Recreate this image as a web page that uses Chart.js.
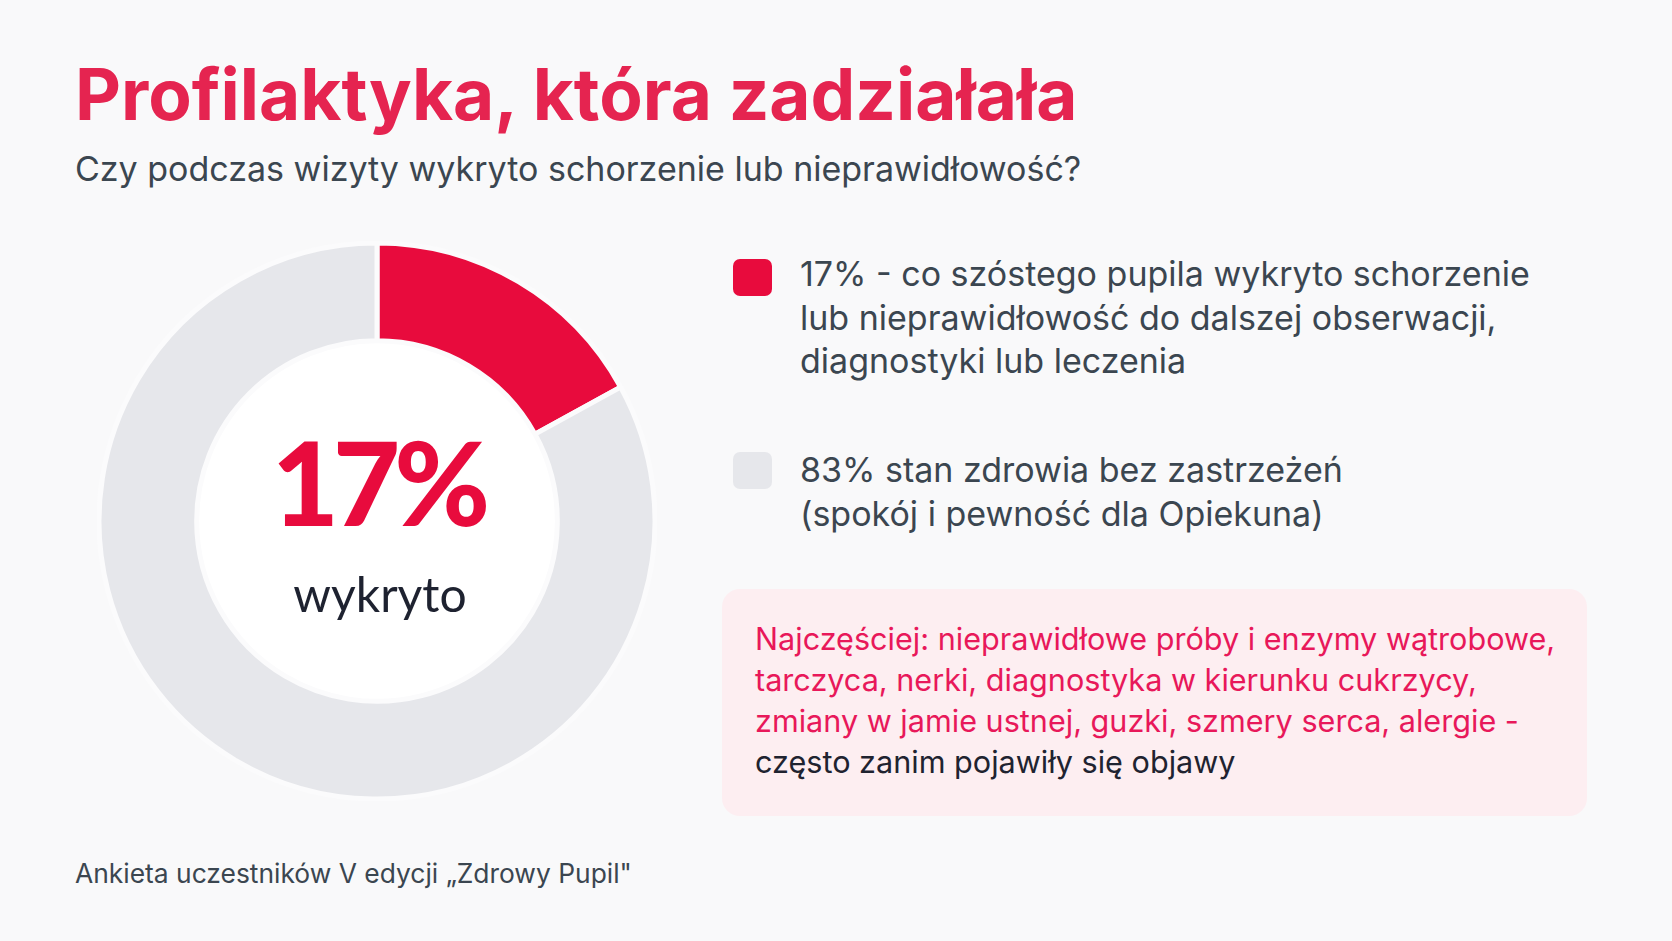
<!DOCTYPE html>
<html lang="pl">
<head>
<meta charset="utf-8">
<script src="https://cdn.jsdelivr.net/npm/chart.js@4.4.1/dist/chart.umd.min.js"></script>
<style>
  html, body { margin:0; padding:0; }
  body { width:1672px; height:941px; background:#f9f9fa; position:relative; overflow:hidden; font-family:Inter, "Noto Sans", sans-serif; }
  .t { position:absolute; white-space:nowrap; margin:0; }
  #title { left:75px; font-weight:700; font-size:71px; line-height:1; color:#e52450; }
  #subtitle { left:75px; font-size:34px; line-height:1.2; color:#3b4650; }
  .legtext { left:800px; font-size:34px; line-height:43.5px; color:#3b4650; }
  .sw { position:absolute; left:733px; width:39px; height:37px; border-radius:7px; }
  #box { position:absolute; left:722px; top:589px; width:865px; height:227px; border-radius:18px; background:#fdeef1; }
  #boxtext { left:755px; font-size:30.6px; line-height:41px; color:#e8185a; }
  #boxtext .dark { color:#1f2330; }
  #foot { left:75px; font-size:26.4px; line-height:1.2; color:#3b4650; }
  #chartwrap { position:absolute; left:97px; top:241px; width:560px; height:560px; }
  #big { font-family:Lato, sans-serif; font-weight:900; font-size:116px; line-height:1; color:#e80b3d; letter-spacing:-6px; text-align:center; width:300px; left:228px; }
  #sub { font-family:Lato, sans-serif; font-weight:400; font-size:48px; line-height:1; color:#1e2230; text-align:center; width:300px; left:230px; }
</style>
</head>
<body>
<div id="chartwrap"><canvas id="c" width="560" height="560"></canvas></div>

<div id="title" class="t"></div>
<div id="subtitle" class="t"></div>

<div id="sw0" class="sw" style="top:259px;"></div>
<div id="leg0" class="t legtext"></div>
<div id="sw1" class="sw" style="top:452px;"></div>
<div id="leg1" class="t legtext"></div>

<div id="box"></div>
<div id="boxtext" class="t"></div>

<div id="big" class="t"></div>
<div id="sub" class="t"></div>

<div id="foot" class="t"></div>

<script>
// ---- data ----
const categories = ["wykryto schorzenie lub nieprawidłowość", "stan zdrowia bez zastrzeżeń"];
const values = [17, 83];
const colors = ["#e80b3d", "#e6e7eb"];

const titleText = "Profilaktyka, która zadziałała";
const subtitleText = "Czy podczas wizyty wykryto schorzenie lub nieprawidłowość?";
const legendLines0 = ["17% - co szóstego pupila wykryto schorzenie", "lub nieprawidłowość do dalszej obserwacji,", "diagnostyki lub leczenia"];
const legendLines1 = ["83% stan zdrowia bez zastrzeżeń", "(spokój i pewność dla Opiekuna)"];
const boxLinesRed = ["Najczęściej: nieprawidłowe próby i enzymy wątrobowe,", "tarczyca, nerki, diagnostyka w kierunku cukrzycy,", "zmiany w jamie ustnej, guzki, szmery serca, alergie -"];
const boxLinesDark = ["często zanim pojawiły się objawy"];
const centerValue = "17%";
const centerLabel = "wykryto";
const footText = "Ankieta uczestników V edycji „Zdrowy Pupil\"";

// ---- text ----
function setLines(el, lines) {
  el.innerHTML = "";
  lines.forEach((l, i) => { if (i) el.appendChild(document.createElement("br")); el.appendChild(document.createTextNode(l)); });
}
document.getElementById("title").textContent = titleText;
document.getElementById("subtitle").textContent = subtitleText;
setLines(document.getElementById("leg0"), legendLines0);
setLines(document.getElementById("leg1"), legendLines1);
document.getElementById("sw0").style.background = colors[0];
document.getElementById("sw1").style.background = colors[1];
const bt = document.getElementById("boxtext");
setLines(bt, boxLinesRed);
bt.appendChild(document.createElement("br"));
const dk = document.createElement("span"); dk.className = "dark"; dk.textContent = boxLinesDark.join(" ");
bt.appendChild(dk);
document.getElementById("big").textContent = centerValue;
document.getElementById("sub").textContent = centerLabel;
document.getElementById("foot").textContent = footText;

function placeBaseline(id, baseline) {
  const el = document.getElementById(id);
  el.style.top = "0px";
  const m = document.createElement("span");
  m.style.display = "inline-block"; m.style.width = "0"; m.style.height = "0"; m.style.verticalAlign = "baseline";
  el.insertBefore(m, el.firstChild);
  const off = m.getBoundingClientRect().top - el.getBoundingClientRect().top;
  m.remove();
  el.style.top = (baseline - off) + "px";
}
function layoutText() {
  placeBaseline("title", 120);
  placeBaseline("subtitle", 181);
  placeBaseline("leg0", 286);
  placeBaseline("leg1", 482);
  placeBaseline("boxtext", 650);
  placeBaseline("big", 526);
  placeBaseline("sub", 612);
  placeBaseline("foot", 883);
}
layoutText();
if (document.fonts && document.fonts.ready) document.fonts.ready.then(layoutText);

// ---- chart ----
const innerWhite = {
  id: "innerWhite",
  beforeDatasetsDraw(chart) {
    const arc = chart.getDatasetMeta(0).data[0];
    if (!arc) return;
    const { x, y, innerRadius } = arc.getProps(["x", "y", "innerRadius"], true);
    const ctx = chart.ctx;
    ctx.save();
    ctx.beginPath();
    ctx.arc(x, y, innerRadius, 0, Math.PI * 2);
    ctx.fillStyle = "#ffffff";
    ctx.fill();
    ctx.restore();
  }
};

new Chart(document.getElementById("c"), {
  type: "doughnut",
  data: {
    labels: categories,
    datasets: [{
      data: values,
      backgroundColor: colors,
      borderColor: "#fbfbfc",
      borderWidth: 5,
      hoverOffset: 0
    }]
  },
  options: {
    responsive: false,
    animation: false,
    radius: 278,
    cutout: 180,
    layout: { padding: 0 },
    plugins: { legend: { display: false }, tooltip: { enabled: false } }
  },
  plugins: [innerWhite]
});
</script>
</body>
</html>
